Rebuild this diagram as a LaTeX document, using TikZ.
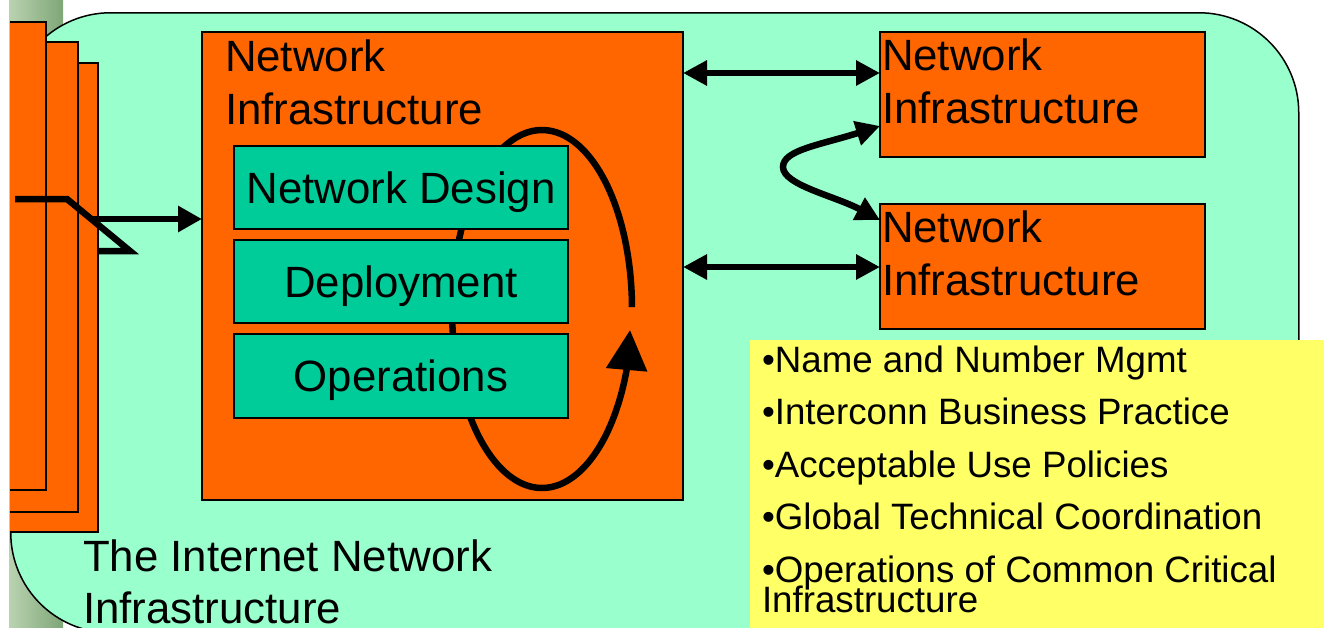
\documentclass[tikz,border=0pt]{standalone}
\usepackage{fontspec}
\setmainfont{Liberation Sans}
\usetikzlibrary{arrows.meta,calc}
\definecolor{mint}{HTML}{99FFCC}
\definecolor{org}{HTML}{FF6600}
\definecolor{tealc}{HTML}{00CC99}
\definecolor{yel}{HTML}{FFFF66}
\definecolor{stripeA}{HTML}{B9D3B1}
\definecolor{stripeB}{HTML}{7FA677}
\begin{document}
\begin{tikzpicture}[x=1pt,y=-1pt,
  bigfont/.style={font=\fontsize{43.8}{52}\selectfont},
  smallfont/.style={font=\fontsize{36.7}{44}\selectfont},
  lbl/.style={anchor=base west, inner sep=0pt, outer sep=0pt},
  obox/.style={draw=black, line width=1.6pt, fill=org, anchor=north west, inner sep=0pt, outer sep=0pt},
  tbox/.style={draw=black, line width=1.6pt, fill=tealc, inner sep=0pt, outer sep=0pt,
    minimum width=334pt, minimum height=83pt, text height=31.2pt, text depth=0pt, bigfont},
  sarrow/.style={line width=6.5pt, -{Triangle[length=24pt,width=25pt]}},
  dblarrow/.style={line width=6.5pt, {Triangle[length=24pt,width=24pt]}-{Triangle[length=24pt,width=24pt]}},
  looparrow/.style={line width=6.5pt, -{Triangle[length=40pt,width=40pt]}},
]
\useasboundingbox (0,0) rectangle (1324,627);
\clip (0,0) rectangle (1324,627);
\fill[white] (0,0) rectangle (1324,627);
% slide background stripe
\shade[left color=stripeA, right color=stripeB] (9,0) rectangle (63,627);
% big rounded panel
\node[draw=black, line width=1.5pt, fill=mint, rounded corners=100pt, anchor=north west,
      minimum width=1288pt, minimum height=620pt, inner sep=0pt] (panel) at (10,12) {};
% stacked left boxes
\fill[org] (10,63) rectangle (98,532);
\draw[line width=1.6pt] (10,63) -| (98,532) -- (10,532);
\fill[org] (10,42) rectangle (78,512);
\draw[line width=1.6pt] (10,42) -| (78,512) -- (10,512);
\fill[org] (10,22) rectangle (46,490);
\draw[line width=1.6pt] (10,22) -| (46,490) -- (10,490);
% broken link line
\draw[line width=6.5pt] (15,199) -- (67,199) -- (130,251) -- (99,251);
% main box
\node[obox, minimum width=481pt, minimum height=468pt] (main) at (202,32) {};
\coordinate (za) at (90,219);
\draw[sarrow] (za) -- (za -| main.west);
\node[lbl, bigfont] (mt1) at (225,71) {Network};
\node[lbl, bigfont] (mt2) at (225,124) {Infrastructure};
% cycle loop
\draw[looparrow] plot[smooth, domain=0.6:340, samples=90] ({542+90*cos(\x)},{309-179*sin(\x)}) -- (630,330);
% teal boxes
\node[tbox] (design) at (401,187.5) {Network Design};
\node[tbox] (deploy) at (401,281.5) {Deployment};
\node[tbox, minimum height=84pt] (ops) at (401,376) {Operations};
% right boxes
\node[obox, minimum width=325pt, minimum height=125pt] (nr1) at (880,32) {};
\node[obox, minimum width=325pt, minimum height=125pt] (nr2) at (880,204) {};
\node[lbl, bigfont] (r1t1) at (882,70) {Network};
\node[lbl, bigfont] (r1t2) at (882,123) {Infrastructure};
\node[lbl, bigfont] (r2t1) at (882,242) {Network};
\node[lbl, bigfont] (r2t2) at (882,295) {Infrastructure};
% connectors
\draw[dblarrow] ($(main.north east)+(0,41)$) -- ($(nr1.north west)+(0,41)$);
\draw[dblarrow] ($(main.north east)+(0,235)$) -- ($(nr2.north west)+(0,63)$);
\draw[dblarrow] ($(nr1.south west)+(0,-31)$) .. controls (820,145) and (783,150) .. (783,167)
   .. controls (783,185) and (835,196) .. ($(nr2.north west)+(0,16)$);
% bottom label
\node[lbl, bigfont] (bt1) at (83,571.7) {The Internet Network};
\node[lbl, bigfont] (bt2) at (83,623) {Infrastructure};
% yellow list
\node[fill=yel, anchor=north west, minimum width=600pt, minimum height=300pt, inner sep=0pt] (yb) at (750,340) {};
\node[lbl, smallfont] (y1) at (762,372) {•Name and Number Mgmt};
\node[lbl, smallfont] (y2) at (762,424) {•Interconn Business Practice};
\node[lbl, smallfont] (y3) at (762,477) {•Acceptable Use Policies};
\node[lbl, smallfont] (y4) at (762,529) {•Global Technical Coordination};
\node[lbl, smallfont] (y5) at (762,582) {•Operations of Common Critical};
\node[lbl, smallfont] (y6) at (762,612) {Infrastructure};
\end{tikzpicture}
\end{document}
